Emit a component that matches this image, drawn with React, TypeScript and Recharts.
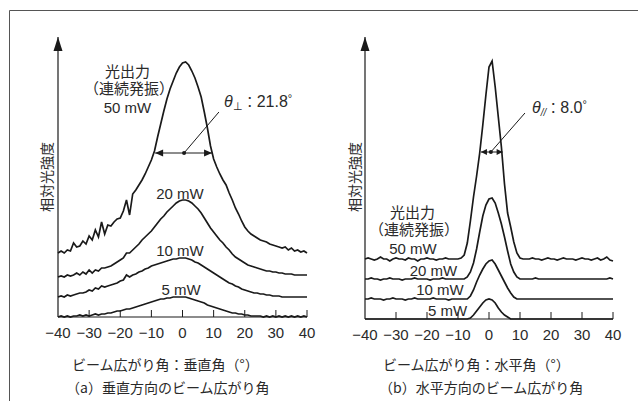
import React from 'react';
import { LineChart, Line, XAxis, YAxis, ReferenceLine, ReferenceDot } from 'recharts';

const angles = [-40,-39,-38,-37,-36,-35,-34,-33,-32,-31,-30,-29,-28,-27,-26,-25,-24,-23,-22,-21,-20,-19,-18,-17,-16,-15,-14,-13,-12,-11,-10,-9,-8,-7,-6,-5,-4,-3,-2,-1,0,1,2,3,4,5,6,7,8,9,10,11,12,13,14,15,16,17,18,19,20,21,22,23,24,25,26,27,28,29,30,31,32,33,34,35,36,37,38,39,40];
const tickValues = [-40,-30,-20,-10,0,10,20,30,40];

// 垂直方向 (left panel), relative intensity incl. vertical offset
const vert50 = [64,66,64,67,66,74,70,71,76,73,
  81,77,87,80,95,83,92,91,95,98,
  99,106,117,102,123,127,132,137,143,150,
  157,166,180,193,206,218,228,236,244,250,
  254,
  255,252,246,239,230,220,205,189,171,158,
  150,143,137,132,124,117,109,103,96,90,
  86,83,81,79,77,76,75,73,72,71,
  70,69,70,67,69,66,67,65,66,64];
const vert20 = [40,41,40,42,41,42,44,42,45,43,
  47,44,47,46,49,49,50,51,53,55,
  57,59,64,64,67,70,73,77,80,83,
  86,90,94,98,101,105,108,111,114,116,
  117,
  117,116,114,111,108,104,99,94,89,85,
  81,77,74,70,67,63,60,58,56,54,
  52,51,50,49,48,47,46,46,45,45,
  44,44,43,43,43,42,42,42,42,42];
const vert10 = [20,21,20,22,21,22,23,24,24,25,
  27,26,29,28,31,30,31,32,33,34,
  36,37,42,40,42,43,45,46,48,49,
  51,52,53,54,55,56,57,58,58,59,
  59,
  59,58,57,55,54,52,50,48,46,44,
  42,40,38,36,34,33,31,30,28,27,
  26,25,24,24,23,23,22,22,21,21,
  21,20,20,20,20,20,20,20,20,20];
const vert5 = [0,1,0,1,0,1,1,2,1,2,
  1,2,3,2,3,3,4,4,5,6,
  6,7,8,8,9,10,11,12,13,14,
  15,16,17,18,18,19,19,20,20,20,
  20,
  20,19,18,17,16,15,14,12,11,10,
  9,8,7,6,5,4,4,3,3,2,
  2,1,1,1,1,0,1,0,1,0,
  1,0,1,0,1,0,1,0,1,0];

// 水平方向 (right panel)
const horiz50 = [60,61,60,59,60,62,60,60,58,60,
  61,60,60,59,61,60,60,58,60,60,
  61,60,60,59,60,60,61,60,60,60,
  60,61,64,76,98,122,143,166,194,224,
  252,
  258,232,202,172,135,106,92,77,66,61,
  60,60,60,61,60,60,59,60,61,60,
  60,59,60,61,60,60,60,59,60,61,
  60,60,59,60,61,59,60,62,59,58];
const horiz20 = [40,40,41,40,40,39,40,40,41,40,
  40,40,39,40,40,40,41,40,40,40,
  40,39,40,40,40,41,40,40,40,40,
  40,40,40,42,47,56,70,87,103,114,
  120,
  121,116,106,95,82,68,55,47,42,40,
  40,40,40,40,41,40,40,40,40,40,
  40,40,40,40,40,40,40,40,40,40,
  40,40,40,40,40,40,40,40,41,40];
const horiz10 = [20,20,21,20,20,20,19,20,20,21,
  20,20,20,19,20,20,21,20,20,20,
  20,20,21,20,20,20,20,19,20,20,
  20,20,20,20,23,29,37,44,50,55,
  58,
  59,55,49,43,37,31,26,22,20,20,
  20,20,20,20,20,20,20,20,20,20,
  20,20,20,20,20,20,20,20,20,20,
  20,20,20,20,20,20,20,20,20,20];
const horiz5 = [0,0,0,0,0,0,0,0,0,0,
  0,0,0,0,0,0,0,0,0,0,
  0,0,0,0,0,0,0,0,0,0,
  0,0,0,0,1,4,8,12,16,19,
  20,
  19,16,11,7,4,2,0,0,0,0,
  0,0,0,0,0,0,0,0,0,0,
  0,0,0,0,0,0,0,0,0,0,
  0,0,0,0,0,0,0,0,0,0];

const leftData = angles.map((a, i) => ({ a, p50: vert50[i], p20: vert20[i], p10: vert10[i], p5: vert5[i] }));
const rightData = angles.map((a, i) => ({ a, p50: horiz50[i], p20: horiz20[i], p10: horiz10[i], p5: horiz5[i] }));

const INK = '#1a1a1a';
const TXT = '#2a2a2a';
const LAT = '"Liberation Sans", Arial, sans-serif';
const CJK = '"Noto Sans CJK JP", "Liberation Sans", sans-serif';
const MIX = '"Liberation Sans", "Noto Sans CJK JP", sans-serif';

const fmt = (v: number) => (v < 0 ? '\u2212' + Math.abs(v) : String(v));

const AxisTick = (props: any) => {
  const { x, y, payload } = props;
  return (
    <g>
      {payload.value !== -40 && <line x1={x} x2={x} y1={y} y2={y - 7} stroke={INK} strokeWidth={1} />}
      <text x={x} y={y + 21} textAnchor="middle" fontSize={15} fontFamily={LAT} fill={TXT}>{fmt(payload.value)}</text>
    </g>
  );
};

const upArrow = (p: any) => (
  <polygon points={`${p.cx},${p.cy} ${p.cx - 4.5},${p.cy + 14} ${p.cx + 4.5},${p.cy + 14}`} fill={INK} />
);
const leftHead = (p: any) => (
  <polygon points={`${p.cx},${p.cy} ${p.cx + 8},${p.cy - 3.5} ${p.cx + 8},${p.cy + 3.5}`} fill={INK} />
);
const rightHead = (p: any) => (
  <polygon points={`${p.cx},${p.cy} ${p.cx - 8},${p.cy - 3.5} ${p.cx - 8},${p.cy + 3.5}`} fill={INK} />
);
const smallLeftHead = (p: any) => (
  <polygon points={`${p.cx},${p.cy} ${p.cx + 6},${p.cy - 3} ${p.cx + 6},${p.cy + 3}`} fill={INK} />
);
const smallRightHead = (p: any) => (
  <polygon points={`${p.cx},${p.cy} ${p.cx - 6},${p.cy - 3} ${p.cx - 6},${p.cy + 3}`} fill={INK} />
);
const centerDot = (p: any) => <circle cx={p.cx} cy={p.cy} r={2} fill={INK} />;

const series = ['p50', 'p20', 'p10', 'p5'];

function Panel({ data, width, margin, yMax, arrow }: any) {
  return (
    <LineChart width={width} height={401} data={data} margin={margin}>
      <XAxis
        dataKey="a"
        type="number"
        domain={[-40, 40]}
        ticks={tickValues}
        interval={0}
        tickLine={false}
        tickSize={0}
        tickMargin={0}
        height={30}
        axisLine={{ stroke: INK, strokeWidth: 1.2 }}
        tick={<AxisTick />}
      />
      <YAxis hide type="number" domain={[0, yMax]} />
      <ReferenceLine x={-40} stroke={INK} strokeWidth={1.2} />
      <ReferenceDot x={-40} y={yMax} r={0} shape={upArrow} ifOverflow="visible" />
      {series.map((k) => (
        <Line key={k} dataKey={k} type="linear" dot={false} stroke={INK} strokeWidth={1.7} isAnimationActive={false} />
      ))}
      <ReferenceLine segment={[{ x: arrow.x1, y: arrow.h }, { x: arrow.x2, y: arrow.h }]} stroke={INK} strokeWidth={1} />
      <ReferenceLine segment={[{ x: arrow.cx, y: arrow.h }, { x: arrow.lx, y: arrow.lh }]} stroke={INK} strokeWidth={1} />
      <ReferenceDot x={arrow.x1} y={arrow.h} r={0} shape={arrow.small ? smallLeftHead : leftHead} />
      <ReferenceDot x={arrow.x2} y={arrow.h} r={0} shape={arrow.small ? smallRightHead : rightHead} />
      <ReferenceDot x={arrow.cx} y={arrow.h} r={0} shape={centerDot} />
    </LineChart>
  );
}

export default function App() {
  return (
    <div style={{ position: 'absolute', left: 0, top: 0, width: 638, height: 401, background: '#fff', overflow: 'hidden' }}>
      <div style={{ position: 'absolute', left: 0, top: 0 }}>
        <Panel
          data={leftData}
          width={320}
          yMax={280}
          margin={{ top: 37, right: 13, bottom: 54, left: 58 }}
          arrow={{ x1: -8.8, x2: 9.5, h: 164, cx: 0.5, lx: 11.7, lh: 205, small: false }}
        />
      </div>
      <div style={{ position: 'absolute', left: 320, top: 0 }}>
        <Panel
          data={rightData}
          width={318}
          yMax={282}
          margin={{ top: 37, right: 25, bottom: 52, left: 45 }}
          arrow={{ x1: -2.6, x2: 4.4, h: 167, cx: 0.6, lx: 11.6, lh: 206, small: true }}
        />
      </div>
      <svg width={638} height={401} style={{ position: 'absolute', left: 0, top: 0, pointerEvents: 'none' }}>
        <line x1={9.5} y1={10.5} x2={638} y2={10.5} stroke="#555" strokeWidth={1} />
        <line x1={9.5} y1={10.5} x2={9.5} y2={401} stroke="#555" strokeWidth={1} />
        <g fill={TXT}>
          {/* left panel */}
          <text x={46} y={177} transform="rotate(-90 46 177)" textAnchor="middle" dominantBaseline="central" fontSize={14} fontFamily={CJK}>相対光強度</text>
          <text x={127.5} y={77} textAnchor="middle" fontSize={15} fontFamily={MIX}>光出力</text>
          <text x={129} y={94} textAnchor="middle" fontSize={15} fontFamily={MIX}>（連続発振）</text>
          <text x={127.5} y={112.5} textAnchor="middle" fontSize={15} fontFamily={LAT}>50 mW</text>
          <text x={180} y={198.5} textAnchor="middle" fontSize={15} fontFamily={LAT}>20 mW</text>
          <text x={180} y={255.5} textAnchor="middle" fontSize={15} fontFamily={LAT}>10 mW</text>
          <text x={181} y={294.5} textAnchor="middle" fontSize={15} fontFamily={LAT}>5 mW</text>
          <text x={224} y={107} fontSize={16} fontFamily={LAT}>
            <tspan fontStyle="italic">θ</tspan>
            <tspan fontSize={11} dy={3}>⊥</tspan>
            <tspan dy={-3} fontFamily={CJK} fontSize={14}>：</tspan>
            <tspan>21.8</tspan>
            <tspan fontSize={11} dy={-5}>°</tspan>
          </text>
          <text x={72} y={370} fontSize={14} fontFamily={CJK}>ビーム広がり角：垂直角（°）</text>
          <text x={66} y={393} fontSize={14} fontFamily={CJK}>（a）垂直方向のビーム広がり角</text>

          {/* right panel */}
          <text x={354} y={177} transform="rotate(-90 354 177)" textAnchor="middle" dominantBaseline="central" fontSize={14} fontFamily={CJK}>相対光強度</text>
          <text x={412.5} y={218} textAnchor="middle" fontSize={15} fontFamily={MIX}>光出力</text>
          <text x={414} y={235} textAnchor="middle" fontSize={15} fontFamily={MIX}>（連続発振）</text>
          <text x={413} y={254} textAnchor="middle" fontSize={15} fontFamily={LAT}>50 mW</text>
          <text x={433.5} y={275.5} textAnchor="middle" fontSize={15} fontFamily={LAT}>20 mW</text>
          <text x={440} y={295} textAnchor="middle" fontSize={15} fontFamily={LAT}>10 mW</text>
          <text x={447.5} y={316} textAnchor="middle" fontSize={15} fontFamily={LAT}>5 mW</text>
          <text x={532} y={113} fontSize={16} fontFamily={LAT}>
            <tspan fontStyle="italic">θ</tspan>
            <tspan fontSize={10} fontStyle="italic" dy={3}>//</tspan>
            <tspan dy={-3} fontFamily={CJK} fontSize={14}>：</tspan>
            <tspan>8.0</tspan>
            <tspan fontSize={11} dy={-5}>°</tspan>
          </text>
          <text x={383} y={370} fontSize={14} fontFamily={CJK}>ビーム広がり角：水平角（°）</text>
          <text x={379} y={393} fontSize={14} fontFamily={CJK}>（b）水平方向のビーム広がり角</text>
        </g>
      </svg>
    </div>
  );
}
